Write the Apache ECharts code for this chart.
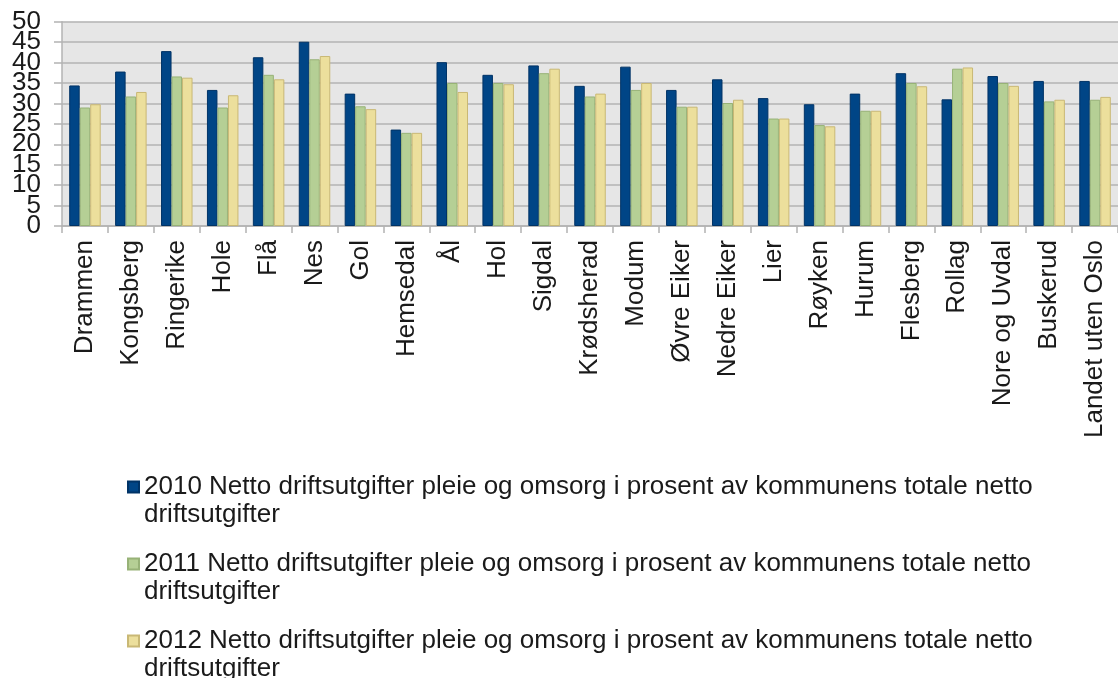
<!DOCTYPE html>
<html lang="no">

<head>
    <meta charset="UTF-8">
    <title>Pleie og omsorg</title>
    <script src="https://cdn.jsdelivr.net/npm/echarts@6/dist/echarts.min.js"></script>
    <style>
        body { margin: 0; background: #fff; }
    </style>
</head>

<body>
    <div id="main" style="width: 1118px;height:678px;"></div>
    <script>
        let kommuner = ['Drammen', 'Kongsberg', 'Ringerike', 'Hole', 'Flå', 'Nes', 'Gol', 'Hemsedal', 'Ål', 'Hol',
            'Sigdal', 'Krødsherad', 'Modum', 'Øvre Eiker', 'Nedre Eiker', 'Lier', 'Røyken', 'Hurum', 'Flesberg',
            'Rollag', 'Nore og Uvdal', 'Buskerud', 'Landet uten Oslo']
        let serieNavn = [
            '2010 Netto driftsutgifter pleie og omsorg i prosent av kommunens totale netto driftsutgifter',
            '2011 Netto driftsutgifter pleie og omsorg i prosent av kommunens totale netto driftsutgifter',
            '2012 Netto driftsutgifter pleie og omsorg i prosent av kommunens totale netto driftsutgifter'
        ]
        let data2010 = [34.4, 37.8, 42.8, 33.3, 41.3, 45.1, 32.4, 23.6, 40.1, 37.0, 39.3, 34.3, 39.0, 33.3, 35.9,
            31.3, 29.8, 32.4, 37.4, 31.0, 36.7, 35.5, 35.5]
        let data2011 = [29.0, 31.7, 36.6, 29.0, 37.0, 40.8, 29.3, 22.8, 35.0, 35.0, 37.4, 31.7, 33.3, 29.2, 30.1,
            26.3, 24.7, 28.2, 35.0, 38.5, 35.0, 30.5, 30.9]
        let data2012 = [29.8, 32.8, 36.3, 32.0, 35.9, 41.6, 28.6, 22.8, 32.8, 34.7, 38.5, 32.4, 35.0, 29.2, 30.9,
            26.3, 24.4, 28.2, 34.2, 38.8, 34.3, 30.9, 31.6]
        let yTicks = [0, 50, 5]
    </script>
    <script>
        var chartDom = document.getElementById('main');
        var myChart = echarts.init(chartDom);
        var option;

        var farger = ['#004586', '#b5cf95', '#ecdf9c'];
        var kanter = ['#003366', '#97b277', '#c9b875'];
        var grå = '#b3b3b3';

        function lagSerie(i, data) {
            return {
                name: serieNavn[i],
                type: 'bar',
                barWidth: 10.5,
                barGap: '0%',
                data: data,
                itemStyle: {
                    color: farger[i],
                    borderColor: kanter[i],
                    borderWidth: 1
                }
            };
        }

        // to y-akser oppå hverandre: tallene står så tett at echarts ellers skjuler hver andre
        function lagYAkse(rest, medLinjer) {
            return {
                type: 'value',
                position: 'left',
                min: yTicks[0],
                max: yTicks[1],
                interval: yTicks[2],
                axisLine: { show: medLinjer, lineStyle: { color: grå, width: 1.5 } },
                axisTick: { show: medLinjer, length: 8, lineStyle: { color: grå, width: 1.5 } },
                splitLine: { show: medLinjer, lineStyle: { color: grå, width: 1.5 } },
                axisLabel: {
                    fontSize: 26,
                    color: '#1a1a1a',
                    margin: 21,
                    showMinLabel: true,
                    showMaxLabel: true,
                    formatter: function (v) {
                        return v % (yTicks[2] * 2) === rest ? String(v) : '';
                    }
                }
            };
        }

        option = {
            animation: false,
            textStyle: {
                fontFamily: 'Liberation Sans'
            },
            legend: {
                orient: 'vertical',
                left: 127,
                top: 445,
                height: 400,
                padding: 0,
                itemGap: -7,
                itemWidth: 11,
                itemHeight: 11,
                icon: 'rect',
                // tom første linje, så ikonet havner ved første tekstlinje
                formatter: function (navn) {
                    return '\n' + navn;
                },
                textStyle: {
                    fontSize: 26,
                    color: '#1a1a1a',
                    lineHeight: 28,
                    width: 960,
                    overflow: 'break'
                }
            },
            grid: {
                left: 62,
                top: 21.7,
                height: 204.3,
                width: 1058,
                show: true,
                backgroundColor: '#e6e6e6',
                borderWidth: 0
            },
            xAxis: {
                type: 'category',
                data: kommuner,
                axisLine: { lineStyle: { color: grå, width: 1.5 } },
                axisTick: { show: true, interval: 0, length: 7, lineStyle: { color: grå, width: 1.5 } },
                axisLabel: {
                    interval: 0,
                    rotate: 90,
                    margin: 14,
                    fontSize: 26,
                    color: '#1a1a1a'
                }
            },
            yAxis: [
                lagYAkse(0, true),
                lagYAkse(yTicks[2], false)
            ],
            series: [
                lagSerie(0, data2010),
                lagSerie(1, data2011),
                lagSerie(2, data2012)
            ]
        };

        option && myChart.setOption(option);
    </script>
</body>

</html>
